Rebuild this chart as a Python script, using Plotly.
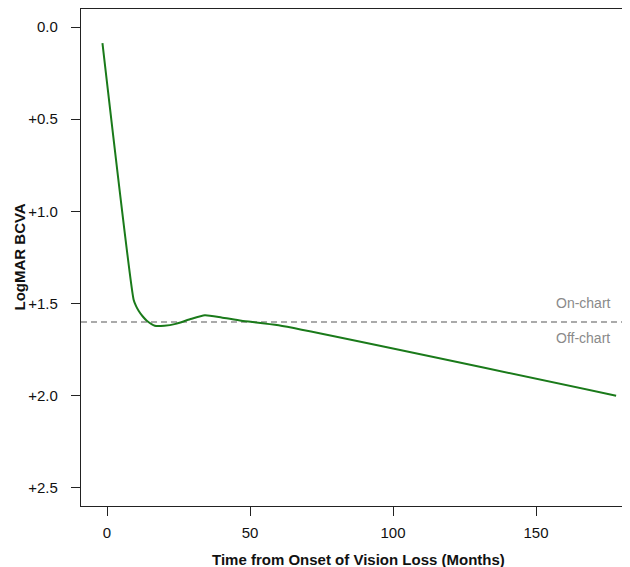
import plotly.graph_objects as go

# Data
months = [-1.6, 9.3, 10.2, 11.1, 12.5, 14.0, 16.7, 20.0, 24.0, 29.0, 34.2, 40.0, 47.0, 60.0, 178.0]
logmar = [0.087, 1.479, 1.515, 1.54, 1.57, 1.594, 1.62, 1.62, 1.61, 1.585, 1.563, 1.575, 1.593, 1.618, 2.0]

threshold = 1.6
threshold_labels = ["On-chart", "Off-chart"]
label_y = [1.497, 1.687]
label_x = 166.5

x_ticks = [0, 50, 100, 150]
y_ticks = [0.0, 0.5, 1.0, 1.5, 2.0, 2.5]
y_tick_text = ["0.0", "+0.5", "+1.0", "+1.5", "+2.0", "+2.5"]

x_title = "Time from Onset of Vision Loss (Months)"
y_title = "LogMAR BCVA"

W, H = 630, 567
ML, MR, MT, MB = 73, 3, 1, 69
PW, PH = W - ML - MR, H - MT - MB

fig = go.Figure()
fig.add_trace(go.Scatter(x=months, y=logmar, mode="lines",
                         line=dict(color="#1a7a1a", width=2, shape="spline", smoothing=0.5),
                         showlegend=False, hoverinfo="skip"))

fig.add_shape(type="line", xref="paper", x0=0, x1=1, yref="y", y0=threshold, y1=threshold,
              line=dict(color="#aaaaaa", width=2, dash="6px,4px"), layer="below")

for t, yy in zip(threshold_labels, label_y):
    fig.add_annotation(x=label_x, y=yy, text=t, showarrow=False, xref="x", yref="y",
                       font=dict(family="Liberation Sans, Arial", size=14, color="#8a8a8a"))

font = dict(family="Liberation Sans, Arial", size=15, color="#111111")

# axis titles
fig.add_annotation(text="<b>%s</b>" % x_title, xref="paper", yref="paper",
                   x=0.5, y=-(551 - (MT + PH)) / PH, xanchor="center", yanchor="middle",
                   showarrow=False, font=font, borderpad=0)
fig.add_annotation(text="<b>%s</b>" % y_title, xref="paper", yref="paper",
                   x=(11 - ML) / PW, y=0.5, xanchor="center", yanchor="middle",
                   textangle=-90, showarrow=False, font=font)

axis_common = dict(showline=True, linecolor="#222222", linewidth=1.3, mirror=True,
                   ticks="outside", ticklen=9, tickwidth=1.3, tickcolor="#222222",
                   showgrid=False, zeroline=False, automargin=False, tickfont=font)

fig.update_xaxes(range=[-9.1, 184.6], tickvals=x_ticks, ticklabelstandoff=4, **axis_common)
fig.update_yaxes(range=[2.598, -0.098], tickvals=y_ticks, ticktext=y_tick_text,
                 ticklabelstandoff=10, **axis_common)

fig.update_layout(width=W, height=H, margin=dict(l=ML, r=MR, t=MT, b=MB, autoexpand=False),
                  plot_bgcolor="white", paper_bgcolor="white")

fig.write_html("out.html")
